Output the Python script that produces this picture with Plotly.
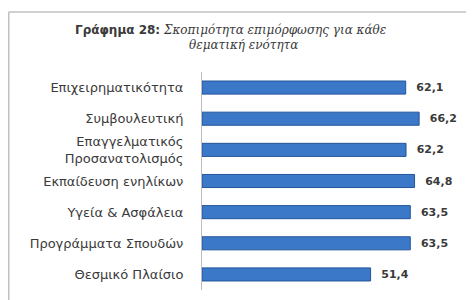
import plotly.graph_objects as go

categories = [
    "Επιχειρηματικότητα",
    "Συμβουλευτική",
    "Επαγγελματικός<br>Προσανατολισμός",
    "Εκπαίδευση ενηλίκων",
    "Υγεία & Ασφάλεια",
    "Προγράμματα Σπουδών",
    "Θεσμικό Πλαίσιο",
]
values = [62.1, 66.2, 62.2, 64.8, 63.5, 63.5, 51.4]
value_labels = ["  " + f"{v:.1f}".replace(".", ",") for v in values]
title_line1 = ("<span style='font-family:DejaVu Sans;font-weight:bold'>Γράφημα 28:</span> "
               "<i>Σκοπιμότητα επιμόρφωσης για κάθε</i>")
title_line2 = "<i>θεματική ενότητα</i>"

# the page body adds an 8px offset, so the figure is sized to fit the window
W, H = 466, 292
L, R, T, B = 194, 5, 64, 10
pw, ph = W - L - R, H - T - B

def px_to_paper_x(px):
    return (px - L) / pw

def px_to_paper_y(py):
    return (H - B - py) / ph

fig = go.Figure(go.Bar(
    x=values,
    y=categories,
    orientation="h",
    marker=dict(color="#3b78c8", line=dict(color="#24549a", width=1)),
    text=value_labels,
    textposition="outside",
    textfont=dict(family="DejaVu Sans", size=11, color="#3a3a3a", weight="bold"),
    cliponaxis=False,
))

border = dict(color="#c0c0c0", width=1.5)
fig.add_shape(type="line", xref="paper", yref="paper",
              x0=px_to_paper_x(0.75), x1=px_to_paper_x(W),
              y0=px_to_paper_y(4), y1=px_to_paper_y(4), line=border)
fig.add_shape(type="line", xref="paper", yref="paper",
              x0=px_to_paper_x(0.75), x1=px_to_paper_x(0.75),
              y0=px_to_paper_y(4), y1=px_to_paper_y(H), line=border)

title_font = dict(family="DejaVu Serif", size=12, color="#3a3a3a")
fig.add_annotation(text=title_line1, xref="paper", yref="paper",
                   x=px_to_paper_x(65), y=px_to_paper_y(22),
                   xanchor="left", yanchor="middle", showarrow=False, font=title_font)
fig.add_annotation(text=title_line2, xref="paper", yref="paper",
                   x=px_to_paper_x(235), y=px_to_paper_y(37),
                   xanchor="center", yanchor="middle", showarrow=False, font=title_font)

fig.update_layout(
    width=W, height=H,
    margin=dict(l=L, r=R, t=T, b=B),
    paper_bgcolor="white", plot_bgcolor="white",
    bargap=0.58,
    showlegend=False,
    xaxis=dict(range=[0, 81.4], visible=False, fixedrange=True),
    yaxis=dict(
        autorange="reversed",
        showline=True, linecolor="#bdbdbd", linewidth=1,
        ticks="", showgrid=False,
        ticklabelstandoff=15,
        tickfont=dict(family="DejaVu Sans", size=13, color="#3a3a3a"),
    ),
)

fig.write_html("out.html")
